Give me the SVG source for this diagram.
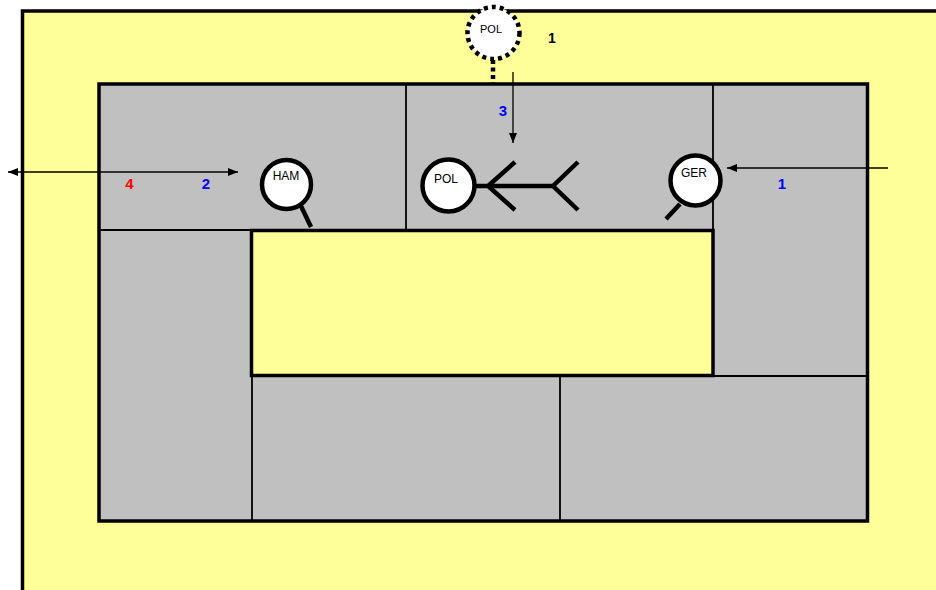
<svg xmlns="http://www.w3.org/2000/svg" width="936" height="590" viewBox="0 0 936 590">
<defs>
<marker id="ah" viewBox="0 0 10 8" refX="10" refY="4" markerWidth="10" markerHeight="8" markerUnits="userSpaceOnUse" orient="auto-start-reverse">
<path d="M0,0 L10,4 L0,8 Z" fill="#000"/>
</marker>
</defs>
<style>
.yel{fill:#FFFF99;stroke:#000;stroke-width:3.5}
.gray{fill:#C0C0C0;stroke:#000;stroke-width:3.5}
.thin{stroke:#000;stroke-width:1.8;fill:none}
.node{fill:#fff;stroke:#000;stroke-width:4.5}
.handle{stroke:#000;stroke-width:4.5;fill:none}
.nt{font-family:"Liberation Sans",Arial,sans-serif;font-size:12px;fill:#000;text-anchor:middle}
.lb{font-family:"Liberation Sans",Arial,sans-serif;font-size:15px;font-weight:bold;text-anchor:middle}
.conn{stroke:#000;stroke-width:1.3;fill:none}
</style>
<rect x="0" y="0" width="936" height="590" fill="#fff"/>
<g id="outer">
<rect x="22.5" y="11" width="913.5" height="579" fill="#FFFF99"/>
<path d="M22.5,590 L22.5,11 L936,11" fill="none" stroke="#000" stroke-width="3.5"/>
</g>
<g id="building">
<rect x="99" y="84" width="768.5" height="437" class="gray"/>
<line x1="406" y1="84" x2="406" y2="230" class="thin"/>
<line x1="713" y1="84" x2="713" y2="230" class="thin"/>
<line x1="99" y1="230" x2="252" y2="230" class="thin"/>
<line x1="713" y1="376" x2="867" y2="376" class="thin"/>
<line x1="252" y1="376" x2="252" y2="521" class="thin"/>
<line x1="560" y1="376" x2="560" y2="521" class="thin"/>
<rect x="251.5" y="230.5" width="461.5" height="145" class="yel"/>
</g>
<g id="connectors">
<line x1="122" y1="172" x2="8" y2="172" class="conn" marker-end="url(#ah)"/>
<line x1="122" y1="172" x2="238" y2="172" class="conn" marker-end="url(#ah)"/>
<line x1="888" y1="168" x2="727" y2="168" class="conn" marker-end="url(#ah)"/>
<line x1="513" y1="72" x2="513" y2="143" class="conn" marker-end="url(#ah)"/>
<line x1="493" y1="60" x2="493" y2="84" stroke="#000" stroke-width="4.5" stroke-dasharray="4 3.5"/>
</g>
<g id="labels">
<text x="129.5" y="189" class="lb" fill="#FF0000">4</text>
<text x="206" y="189" class="lb" fill="#0000FF">2</text>
<text x="782" y="189" class="lb" fill="#0000FF">1</text>
<text x="503" y="116" class="lb" fill="#0000FF">3</text>
<text x="552" y="43" class="lb" fill="#000" style="font-size:14px">1</text>
</g>
<g id="pol-top">
<circle cx="493.5" cy="33" r="26" fill="#fff" stroke="#000" stroke-width="4.5" stroke-dasharray="4 4"/>
<text x="491" y="33" class="nt" style="font-size:11px">POL</text>
</g>
<g id="ham">
<line x1="301" y1="206" x2="311" y2="227" class="handle"/>
<circle cx="286.5" cy="184.5" r="24.5" class="node"/>
<text x="286" y="180" class="nt">HAM</text>
</g>
<g id="pol">
<path d="M475,186 L553,186 M515,162 L488,186 L515,210 M578,162 L553,186 L578,210" class="handle"/>
<circle cx="448.5" cy="185.5" r="26" class="node"/>
<text x="446" y="183" class="nt">POL</text>
</g>
<g id="ger">
<line x1="680" y1="204" x2="666" y2="219" class="handle"/>
<circle cx="695.5" cy="180.5" r="25" class="node"/>
<text x="694" y="177" class="nt">GER</text>
</g>
</svg>
